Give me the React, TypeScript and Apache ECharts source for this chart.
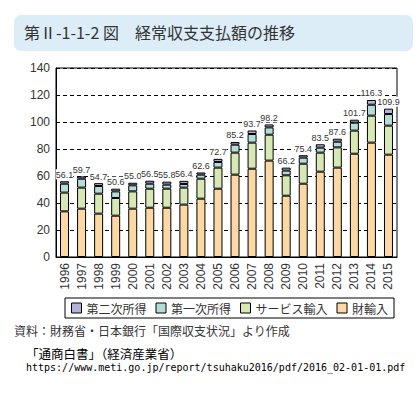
import React, { useEffect, useRef } from "react";
import * as echarts from "echarts";

const years = ["1996","1997","1998","1999","2000","2001","2002","2003","2004","2005","2006","2007","2008","2009","2010","2011","2012","2013","2014","2015"];
const totals = [56.1,59.7,54.7,50.6,55.0,56.5,55.8,56.4,62.6,72.7,85.2,93.7,98.2,66.2,75.4,83.5,87.6,101.7,116.3,109.9];
const goodsImports = [33.8,35.8,32.1,30.6,35.8,36.5,36.5,38.8,43.2,50.6,61.0,65.4,71.4,45.4,54.3,63.2,66.2,76.5,84.7,75.8];
const serviceImports = [13.9,15.6,14.8,13.1,12.8,14.1,14.1,12.6,14.8,15.6,16.3,19.3,19.2,15.1,14.8,14.1,15.0,17.1,20.0,21.5];
const primaryIncome = [6.6,6.6,5.7,4.9,4.5,3.7,3.0,2.7,3.0,4.2,5.9,6.4,5.4,3.5,4.5,3.7,4.2,5.9,8.1,8.6];
const secondaryIncome = [1.8,1.7,2.1,2.0,1.9,2.2,2.2,2.3,1.6,2.3,2.0,2.6,2.2,2.2,1.8,2.5,2.2,2.2,3.5,4.0];
const yTicks = { min: 0, max: 140, interval: 20 };

const JP = '"Noto Sans CJK JP", "Noto Sans", sans-serif';
const NUM = '"Liberation Sans Narrow", "Liberation Sans", sans-serif';

export default function App() {
  const ref = useRef<HTMLDivElement>(null);
  useEffect(() => {
    if (!ref.current) return;
    const chart = echarts.init(ref.current, null, { renderer: "svg" });
    const barBase = {
      type: "bar",
      stack: "total",
      barWidth: 9,
      itemStyle: { borderColor: "#000", borderWidth: 1 },
    };
    chart.setOption({
      animation: false,
      backgroundColor: "#fff",
      grid: {
        left: 56, right: 23, top: 68, bottom: 136,
        show: true, borderColor: "#000", borderWidth: 1, backgroundColor: "transparent",
      },
      legend: {
        left: 65, top: 298,
        data: ["第二次所得", "第一次所得", "サービス輸入", "財輸入"],
        icon: "rect",
        itemWidth: 10, itemHeight: 10, itemGap: 9,
        padding: [4, 6],
        borderColor: "#000", borderWidth: 1,
        textStyle: { fontFamily: JP, fontSize: 12, color: "#333" },
        itemStyle: { borderColor: "#000", borderWidth: 1 },
      },
      xAxis: {
        type: "category",
        data: years,
        axisLine: { lineStyle: { color: "#000", width: 1 } },
        axisTick: { inside: true, length: 4, lineStyle: { color: "#000" } },
        axisLabel: { rotate: 90, fontFamily: NUM, fontSize: 12, color: "#333", margin: 6 },
      },
      yAxis: {
        type: "value",
        min: yTicks.min, max: yTicks.max, interval: yTicks.interval,
        axisLine: { show: true, lineStyle: { color: "#000", width: 1 } },
        axisTick: { show: false },
        axisLabel: { fontFamily: NUM, fontSize: 12, color: "#333", margin: 6 },
        splitLine: { lineStyle: { color: "#000", type: [4, 3], width: 1 } },
      },
      series: [
        { ...barBase, name: "財輸入", data: goodsImports, itemStyle: { ...barBase.itemStyle, color: "#fcd8a4" } },
        { ...barBase, name: "サービス輸入", data: serviceImports, itemStyle: { ...barBase.itemStyle, color: "#d8e8b4" } },
        { ...barBase, name: "第一次所得", data: primaryIncome, itemStyle: { ...barBase.itemStyle, color: "#b4dcd8" } },
        {
          ...barBase, name: "第二次所得", data: secondaryIncome,
          itemStyle: { ...barBase.itemStyle, color: "#b4b2d8" },
          label: {
            show: true, position: "top", distance: 2,
            formatter: (p: any) => totals[p.dataIndex].toFixed(1),
            fontFamily: NUM, fontSize: 9, color: "#333",
            backgroundColor: "#fff", padding: [1, 0, 0, 0],
          },
        },
      ],
      graphic: [
        {
          type: "rect", left: 14, top: 15, z: -1,
          shape: { width: 399, height: 36, r: 7 },
          style: { fill: "#dcedf8" },
        },
        {
          type: "text", left: 24, top: 24,
          style: { text: "第Ⅱ-1-1-2 図　経常収支支払額の推移", fontFamily: JP, fontSize: 16, fill: "#333" },
        },
        {
          type: "text", left: 14, top: 324,
          style: { text: "資料：財務省・日本銀行「国際収支状況」より作成", fontFamily: JP, fontSize: 12, fill: "#333" },
        },
        {
          type: "text", left: 26, top: 347,
          style: { text: "「通商白書」（経済産業省）", fontFamily: JP, fontSize: 12.5, fill: "#000" },
        },
        {
          type: "text", left: 26, top: 362,
          style: { text: "https://www.meti.go.jp/report/tsuhaku2016/pdf/2016_02-01-01.pdf", fontFamily: '"DejaVu Sans Mono", monospace', fontSize: 10, fill: "#000" },
        },
      ],
    });
    return () => chart.dispose();
  }, []);
  return (
    <div style={{ position: "absolute", left: 0, top: 0 }}>
      <div ref={ref} style={{ width: 420, height: 393 }} />
    </div>
  );
}
